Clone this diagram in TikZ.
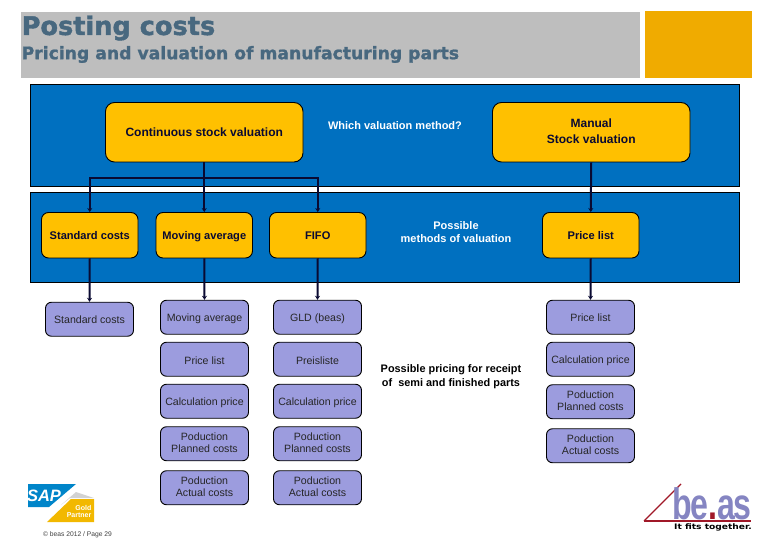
\documentclass[tikz,border=0pt]{standalone}
\usepackage{fontspec}
\setmainfont{Liberation Sans}
\newfontfamily\titlefont[FakeBold=1.6]{DejaVu Sans Bold}
\newfontfamily\titlefontb[FakeBold=1.2]{DejaVu Sans Bold}
\newfontfamily\tagfont{DejaVu Sans}
\usetikzlibrary{arrows.meta}
\definecolor{barblue}{HTML}{0070C0}
\definecolor{boxgold}{HTML}{FFC000}
\definecolor{boxlilac}{HTML}{9C9CDE}
\definecolor{bargrey}{HTML}{BEBEBE}
\definecolor{cornergold}{HTML}{F0AB00}
\definecolor{titleslate}{HTML}{48687F}
\definecolor{linknavy}{HTML}{0A0A32}
\definecolor{logolilac}{HTML}{8585C2}
\definecolor{logored}{HTML}{A01828}
\newcommand{\pxfont}[1]{\fontsize{#1}{#1}\selectfont}
\tikzset{
  x=1pt,y=-1pt,
  struts/.style={execute at begin node={\rule{0pt}{11pt}},execute at end node={\rule[-1.5pt]{0pt}{1.5pt}}},
  bandbox/.style={draw=black,line width=0.8pt,fill=barblue},
  goldbig/.style={struts,draw=black,line width=0.9pt,fill=boxgold,rounded corners=9pt,minimum width=197.5pt,minimum height=59.5pt,inner sep=0pt,align=center,font=\pxfont{12}\bfseries,text=linknavy},
  goldsmall/.style={struts,draw=black,line width=0.9pt,fill=boxgold,rounded corners=7pt,minimum width=96.5pt,minimum height=45.5pt,inner sep=0pt,align=center,font=\pxfont{11.1}\bfseries,text=linknavy},
  lilacbox/.style={struts,draw=black,line width=0.9pt,fill=boxlilac,rounded corners=6pt,minimum width=88pt,minimum height=34pt,inner sep=0pt,align=center,font=\pxfont{10.6},text=black!85},
  wlabel/.style={struts,align=center,text=white,font=\pxfont{11}\bfseries,inner sep=0pt},
  klabel/.style={struts,align=center,text=black,font=\pxfont{10.9}\bfseries,inner sep=0pt},
  link/.style={draw=linknavy,line width=2pt,-{Stealth[length=4pt,width=5pt]}},
  plain/.style={draw=linknavy,line width=2pt}
}
\begin{document}
\begin{tikzpicture}
\useasboundingbox (0,0) rectangle (780,540);
\fill[white] (0,0) rectangle (780,540);
% header
\fill[bargrey] (21,12) rectangle (640,78);
\fill[cornergold] (645,11) rectangle (752,78);
\node[anchor=west,inner sep=0pt,text=titleslate,font=\titlefont\pxfont{25.6}] (title) at (21.5,28) {Posting costs};
\node[anchor=west,inner sep=0pt,text=titleslate,font=\titlefontb\pxfont{17.2}] (subtitle) at (21.5,54.5) {Pricing and valuation of manufacturing parts};
% bands
\draw[bandbox] (30.5,84.5) rectangle (739,186.5);
\draw[bandbox] (30.5,192.5) rectangle (739,282.5);
% top
\node[goldbig] (cont) at (204.25,132.25) {Continuous stock valuation};
\node[goldbig] (man) at (591.25,132.25) {Manual\\[4pt]Stock valuation};
\node[wlabel] (which) at (395,125) {Which valuation method?};
% row 2
\node[goldsmall] (std) at (89.75,235.25) {Standard costs};
\node[goldsmall] (mov) at (204.25,235.25) {Moving average};
\node[goldsmall] (fifo) at (317.75,235.25) {FIFO};
\node[goldsmall] (pl) at (590.75,235.25) {Price list};
\node[wlabel] (poss) at (456,232.5) {Possible\\[2pt]methods of valuation};
% row 3
\node[lilacbox] (std3) at (89.5,319.25) {Standard costs};
\node[lilacbox] (a1) at (204.5,317.25) {Moving average};
\node[lilacbox] (a2) at (204.5,359.25) {Price list};
\node[lilacbox] (a3) at (204.5,401.25) {Calculation price};
\node[lilacbox] (a4) at (204.5,443.75) {Poduction\\[1.5pt]Planned costs};
\node[lilacbox] (a5) at (204.5,487.75) {Poduction\\[1.5pt]Actual costs};
\node[lilacbox] (b1) at (317.5,317.25) {GLD (beas)};
\node[lilacbox] (b2) at (317.5,359.25) {Preisliste};
\node[lilacbox] (b3) at (317.5,401.25) {Calculation price};
\node[lilacbox] (b4) at (317.5,443.75) {Poduction\\[1.5pt]Planned costs};
\node[lilacbox] (b5) at (317.5,487.75) {Poduction\\[1.5pt]Actual costs};
\node[lilacbox] (c1) at (590.5,317.25) {Price list};
\node[lilacbox] (c2) at (590.5,359.25) {Calculation price};
\node[lilacbox] (c3) at (590.5,401.75) {Poduction\\[1.5pt]Planned costs};
\node[lilacbox] (c4) at (590.5,445.75) {Poduction\\[1.5pt]Actual costs};
\node[klabel] (pricing) at (451,376.3) {Possible pricing for receipt\\[3pt]of\ \ semi and finished parts};
% connectors
\coordinate (busmid) at (204.25,178);
\draw[plain] (cont.south) -- (busmid);
\draw[link] (busmid) -| (std.north);
\draw[link] (busmid) -| (fifo.north);
\draw[link] (busmid) -- (mov.north);
\draw[link] (man.south) -- (pl.north);
\draw[link] (std.south) -- (std3.north);
\draw[link] (mov.south) -- (a1.north);
\draw[link] (fifo.south) -- (b1.north);
\draw[link] (pl.south) -- (c1.north);
% SAP logo
\fill[bargrey!70] (61,505) -- (76,492) -- (94,498) -- (70,498) -- cycle;
\fill[cornergold!85!yellow] (47,522) -- (71,499) -- (94,499) -- (94,522) -- cycle;
\fill[barblue!85!cyan] (28,484) -- (76,484) -- (49,507) -- (28,507) -- cycle;
\node[inner sep=0pt,text=white,font=\pxfont{16.5}\bfseries\itshape] (sap) at (44,496) {SAP};
\node[inner sep=0pt,anchor=east,align=right,text=white,font=\pxfont{7}\bfseries] (gold) at (91.5,511.5) {Gold\\[-0.5pt]Partner};
\node[inner sep=0pt,anchor=west,text=black!75,font=\pxfont{6.7}] (copy) at (43,534.5) {© beas 2012 / Page 29};
% be.as logo
\draw[logored,line width=1.2pt] (644,521) -- (681,484);
\draw[logored,line width=1.6pt] (644,521) -- (751,521);
\node[inner sep=0pt,anchor=base east,text=logolilac,font=\pxfont{44}\bfseries] (beas) at (752,519) {\scalebox{0.73}[1]{\addfontfeature{LetterSpace=-4}be{\color{logored}.}as}};
\node[inner sep=0pt,anchor=east,text=black,font=\tagfont\pxfont{7.6}\bfseries] (fits) at (752,527.5) {\scalebox{1.2}[1]{It fits together.}};
\end{tikzpicture}
\end{document}
